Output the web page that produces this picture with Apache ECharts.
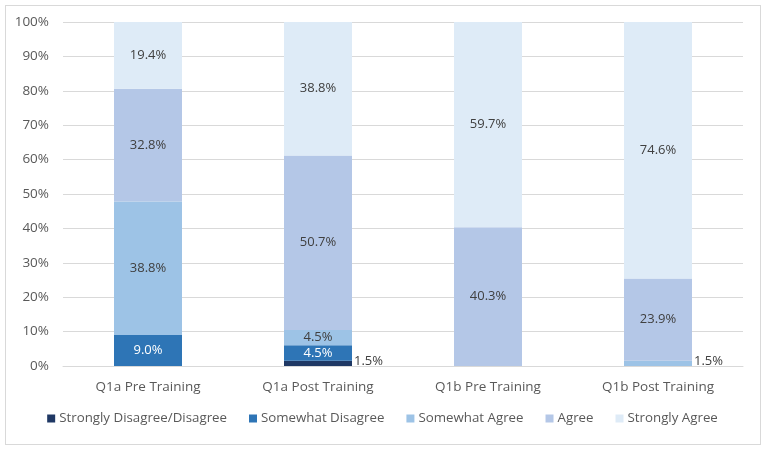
<!DOCTYPE html>
<html>
<head>
<meta charset="utf-8">
<script src="https://cdn.jsdelivr.net/npm/echarts@6/dist/echarts.min.js"></script>
<style>
  html, body { margin: 0; padding: 0; background: #fff; }
  #frame { position: absolute; left: 5px; top: 5px; width: 754px; height: 438px; border: 1px solid #d9d9d9; }
  #chart { width: 765px; height: 450px; }
</style>
</head>
<body>
<div id="frame"></div>
<div id="chart"></div>
<script>
// categories and values (percent)
const categories = ['Q1a Pre Training', 'Q1a Post Training', 'Q1b Pre Training', 'Q1b Post Training'];
const seriesNames = ['Strongly Disagree/Disagree', 'Somewhat Disagree', 'Somewhat Agree', 'Agree', 'Strongly Agree'];
const stronglyDisagree = [0, 1.5, 0, 0];
const somewhatDisagree = [9.0, 4.5, 0, 0];
const somewhatAgree = [38.8, 4.5, 0, 1.5];
const agree = [32.8, 50.7, 40.3, 23.9];
const stronglyAgree = [19.4, 38.8, 59.7, 74.6];
const yTicks = [0, 10, 20, 30, 40, 50, 60, 70, 80, 90, 100];

const colors = ['#1f3864', '#2e75b6', '#9dc3e6', '#b4c7e7', '#deebf7'];
const labelColors = ['#ffffff', '#ffffff', '#404040', '#404040', '#404040'];
const allValues = [stronglyDisagree, somewhatDisagree, somewhatAgree, agree, stronglyAgree];

const chart = echarts.init(document.getElementById('chart'));

// small segments get their label on the right of the bar
function buildData(values) {
  return values.map(function (v) {
    const item = { value: v };
    if (v === 0) {
      item.label = { show: false };
    } else if (v < 3) {
      item.label = { show: true, position: 'right', distance: 2, color: '#404040', offset: [0, -2] };
    }
    return item;
  });
}

const series = allValues.map(function (vals, i) {
  return {
    name: seriesNames[i],
    type: 'bar',
    stack: 'total',
    barWidth: '40%',
    itemStyle: { color: colors[i] },
    label: {
      show: true,
      position: 'inside',
      color: labelColors[i],
      fontSize: 13,
      fontFamily: 'Open Sans',
      formatter: function (p) { return p.value.toFixed(1) + '%'; }
    },
    emphasis: { disabled: true },
    data: buildData(vals)
  };
});

chart.setOption({
  animation: false,
  color: colors,
  grid: { left: 63, right: 22, top: 22, bottom: 84 },
  legend: {
    bottom: 20,
    left: 'center',
    itemWidth: 8,
    itemHeight: 8,
    itemGap: 22,
    icon: 'rect',
    textStyle: { color: '#595959', fontSize: 13.3, fontFamily: 'Open Sans', padding: [0, 0, 0, -1] },
    data: seriesNames
  },
  xAxis: {
    type: 'category',
    data: categories,
    axisLine: { lineStyle: { color: '#d9d9d9' } },
    axisTick: { show: false },
    axisLabel: { color: '#595959', fontSize: 13.5, fontFamily: 'Open Sans', margin: 14 }
  },
  yAxis: {
    type: 'value',
    min: yTicks[0],
    max: yTicks[yTicks.length - 1],
    interval: 10,
    axisLine: { show: false },
    axisTick: { show: false },
    splitLine: { lineStyle: { color: '#d9d9d9' } },
    axisLabel: { color: '#595959', fontSize: 13.5, fontFamily: 'Open Sans', margin: 14, formatter: '{value}%' }
  },
  series: series
});
</script>
</body>
</html>
